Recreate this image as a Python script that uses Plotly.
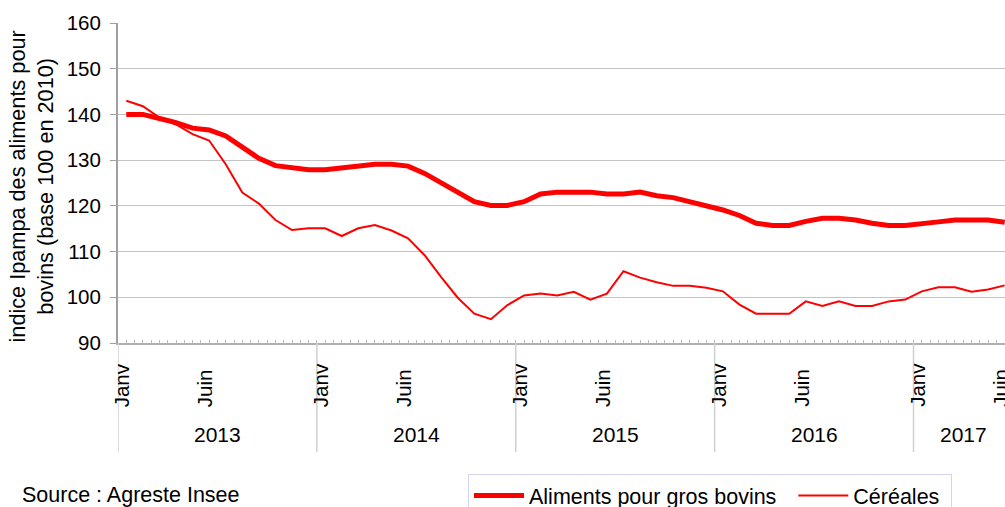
import plotly.graph_objects as go

# ---- data -------------------------------------------------------------
years = ["2013", "2014", "2015", "2016", "2017"]
month_names = ["Janv", "Févr", "Mars", "Avr", "Mai", "Juin",
               "Juil", "Août", "Sept", "Oct", "Nov", "Déc"]
shown_months = ["Janv", "Juin"]
n_months = 54  # Jan 2013 .. Jun 2017
months = [(years[i // 12], month_names[i % 12]) for i in range(n_months)]

aliments = [140.0, 140.0, 139.1, 138.2, 137.0, 136.6, 135.3, 132.8, 130.4, 128.8, 128.3, 127.9,
            127.9, 128.3, 128.7, 129.1, 129.1, 128.7, 127.1, 125.1, 122.9, 120.9, 120.1, 120.1,
            120.9, 122.6, 123.0, 123.0, 123.0, 122.6, 122.6, 123.0, 122.2, 121.8, 120.9, 120.1,
            119.1, 117.9, 116.2, 115.7, 115.7, 116.6, 117.3, 117.3, 116.9, 116.2, 115.7, 115.7,
            116.2, 116.5, 116.9, 116.9, 116.9, 116.4]
cereales = [143.0, 141.8, 139.3, 137.8, 135.7, 134.3, 129.1, 122.9, 120.5, 116.9, 114.7, 115.1,
            115.1, 113.4, 115.1, 115.8, 114.6, 112.9, 109.2, 104.4, 99.9, 96.4, 95.2, 98.3,
            100.4, 100.8, 100.4, 101.2, 99.5, 100.8, 105.7, 104.3, 103.3, 102.5, 102.5, 102.1,
            101.3, 98.4, 96.4, 96.4, 96.4, 99.1, 98.1, 99.1, 98.1, 98.1, 99.1, 99.5,
            101.3, 102.2, 102.2, 101.2, 101.7, 102.6]

y_ticks = [90, 100, 110, 120, 130, 140, 150, 160]
series_names = ["Aliments pour gros bovins", "Céréales"]
source_text = "Source : Agreste Insee"
y_title = "indice Ipampa des aliments pour<br>bovins (base 100 en 2010)"

# ---- figure -----------------------------------------------------------
FONT = "Liberation Sans, Arial, sans-serif"
W, H = 1005, 507
ML, MR, MT, MB = 118, 0, 23, 164
PW, PH = W - ML - MR, H - MT - MB

x = list(range(n_months))

def px_x(p):
    return (p - ML) / PW

def px_y(p):
    return (H - MB - p) / PH

fig = go.Figure()
fig.add_trace(go.Scatter(x=x, y=aliments, mode="lines", name=series_names[0] + "\u00a0\u00a0",
                         line=dict(color="#FF0000", width=5)))
fig.add_trace(go.Scatter(x=x, y=cereales, mode="lines", name=series_names[1] + "\u00a0",
                         line=dict(color="#FF0000", width=2)))

annotations = []
# month labels
for i, (yr, m) in enumerate(months):
    if m in shown_months:
        annotations.append(dict(x=i, xref="x", y=px_y(409), yref="paper", text=m,
                                textangle=-90, showarrow=False, xanchor="center",
                                yanchor="bottom", xshift=-5,
                                font=dict(family=FONT, size=20.5, color="#000")))
# year labels and separators
shapes = []
for k, yr in enumerate(years):
    idx = [i for i, (yy, _) in enumerate(months) if yy == yr]
    c = (idx[0] + idx[-1]) / 2
    annotations.append(dict(x=c, xref="x", y=px_y(434), yref="paper", text=yr,
                            showarrow=False, xanchor="center", yanchor="middle",
                            font=dict(family=FONT, size=21, color="#000")))
    shapes.append(dict(type="line", xref="x", yref="paper", x0=idx[0] - 0.5, x1=idx[0] - 0.5,
                       y0=0, y1=px_y(452), line=dict(color="#D0D0D0", width=1.5)))

annotations.append(dict(x=px_x(20), xref="paper", y=px_y(494.5), yref="paper", text=source_text,
                        showarrow=False, xanchor="left", yanchor="middle",
                        font=dict(family=FONT, size=21.5, color="#000")))
annotations.append(dict(x=px_x(31), xref="paper", y=px_y(186.5), yref="paper", text=y_title,
                        textangle=-90, showarrow=False, xanchor="center", yanchor="middle",
                        font=dict(family=FONT, size=21.7, color="#000")))

fig.update_layout(
    width=W, height=H,
    margin=dict(l=ML, r=MR, t=MT, b=MB, pad=0, autoexpand=False),
    paper_bgcolor="white", plot_bgcolor="white",
    font=dict(family=FONT, color="#000"),
    showlegend=True,
    legend=dict(orientation="h", x=px_x(468), xanchor="left", y=px_y(474), yanchor="top",
                bordercolor="#D4D4F2", borderwidth=1, bgcolor="white",
                font=dict(family=FONT, size=21.5, color="#000"),
                itemwidth=50),
    annotations=annotations,
    shapes=shapes,
    xaxis=dict(range=[-0.5, 53.02], showgrid=False, zeroline=False, showticklabels=False,
               ticks="inside", tick0=-0.5, dtick=0.5, ticklen=3, tickcolor="#BBBBBB",
               tickwidth=1, showline=True, linecolor="#B0B0B0", linewidth=2),
    yaxis=dict(range=[90, 160], tickvals=y_ticks, showgrid=True, gridcolor="#C4C4C4",
               gridwidth=1, zeroline=False, ticks="outside", ticklen=6, tickcolor="#A0A0A0",
               showline=True, linecolor="#A0A0A0", linewidth=2, ticklabelstandoff=5,
               tickfont=dict(family=FONT, size=20.5, color="#000")),
)

fig.write_html("out.html", config={"displayModeBar": False},
               post_script="document.body.style.margin='0';")
